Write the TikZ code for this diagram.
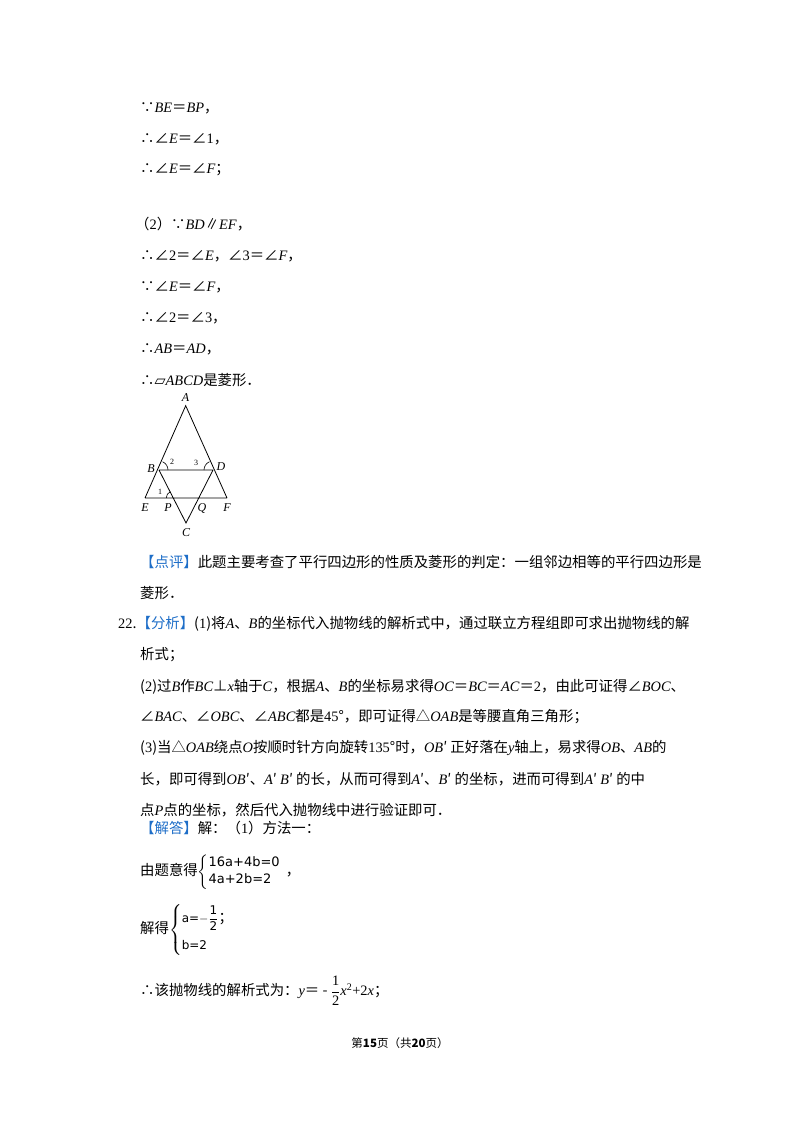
\documentclass[tikz,border=0pt]{standalone}
\usepackage{amsmath}
\usepackage{fontspec}
\usetikzlibrary{calc}
\setmainfont{Noto Sans CJK SC}
\newfontfamily\lat{Liberation Serif}
\newfontfamily\djv{DejaVu Sans}
\newcommand{\mi}[1]{{\lat\itshape #1}}
\newcommand{\rmn}[1]{{\lat #1}}
\definecolor{hl}{RGB}{30,110,200}
\begin{document}
\begin{tikzpicture}[x=1pt,y=-1pt,
  t/.style={anchor=west,inner sep=0pt,font=\fontsize{14.4}{17}\selectfont},
  lab/.style={inner sep=1pt,font=\lat\itshape\fontsize{12}{14}\selectfont},
  sm/.style={inner sep=0pt,font=\lat\fontsize{8}{9}\selectfont},
  seg/.style={line width=0.8pt}]
\useasboundingbox[fill=white] (0,0) rectangle (800,1132);
\node[t] (l1) at (140,108) {∵\mi{BE}＝\mi{BP}，};
\node[t] (l2) at (140,139) {∴∠\mi{E}＝∠\rmn{1}，};
\node[t] (l3) at (140,170) {∴∠\mi{E}＝∠\mi{F}；};
\node[t] (l4) at (135,224) {（\rmn{2}）∵\mi{BD}∥\mi{EF}，};
\node[t] (l5) at (140,256) {∴∠\rmn{2}＝∠\mi{E}，∠\rmn{3}＝∠\mi{F}，};
\node[t] (l6) at (140,287) {∵∠\mi{E}＝∠\mi{F}，};
\node[t] (l7) at (140,318) {∴∠\rmn{2}＝∠\rmn{3}，};
\node[t] (l8) at (140,349) {∴\mi{AB}＝\mi{AD}，};
\node[t] (l9) at (140,380) {∴{\djv ▱}\mi{ABCD}是菱形．};
% figure
\coordinate (A) at (185.7,405.7);
\coordinate (B) at (159,470);
\coordinate (D) at (213,470);
\coordinate (E) at (145,498);
\coordinate (F) at (227,498);
\coordinate (C) at (186,523);
\coordinate (P) at ($(B)!0.528!(C)$);
\coordinate (Q) at ($(D)!0.528!(C)$);
\draw[seg] (E)--(A)--(F) (B)--(D) (E)--(F) (B)--(C)--(D);
\draw[line width=0.6pt] ($(B)!9pt!(D)$) arc[start angle=0,end angle=67,radius=9pt];
\draw[line width=0.6pt] ($(D)!9pt!(B)$) arc[start angle=180,end angle=113,radius=9pt];
\draw[line width=0.6pt] ($(P)!7pt!(E)$) arc[start angle=180,end angle=115,radius=7pt];
\node[lab] (nA) at (185.5,398) {A};
\node[lab] (nB) at (151,469) {B};
\node[lab] (nD) at (221,467) {D};
\node[lab] (nE) at (145,508) {E};
\node[lab] (nP) at (168,508) {P};
\node[lab] (nQ) at (202,508) {Q};
\node[lab] (nF) at (227,508) {F};
\node[lab] (nC) at (186,533) {C};
\node[sm] (n2) at (172,462) {2};
\node[sm] (n3) at (196,463) {3};
\node[sm] (n1) at (160,492) {1};
% comments
\node[t] (d1) at (140,562) {\textcolor{hl}{【点评】}此题主要考查了平行四边形的性质及菱形的判定：一组邻边相等的平行四边形是};
\node[t] (d2) at (140,593) {菱形．};
\node[t] (a1) at (118,624) {\rmn{22}.\textcolor{hl}{【分析】}(\rmn{1})将\mi{A}、\mi{B}的坐标代入抛物线的解析式中，通过联立方程组即可求出抛物线的解};
\node[t] (a2) at (140,655) {析式；};
\node[t] (a3) at (140,687) {(\rmn{2})过\mi{B}作\mi{BC}⊥\mi{x}轴于\mi{C}，根据\mi{A}、\mi{B}的坐标易求得\mi{OC}＝\mi{BC}＝\mi{AC}＝\rmn{2}，由此可证得∠\mi{BOC}、};
\node[t] (a4) at (140,717) {∠\mi{BAC}、∠\mi{OBC}、∠\mi{ABC}都是\rmn{45}°，即可证得△\mi{OAB}是等腰直角三角形；};
\node[t] (a5) at (140,748) {(\rmn{3})当△\mi{OAB}绕点\mi{O}按顺时针方向旋转\rmn{135}°时，\mi{OB}′ 正好落在\mi{y}轴上，易求得\mi{OB}、\mi{AB}的};
\node[t] (a6) at (140,779) {长，即可得到\mi{OB}′、\mi{A}′ \mi{B}′ 的长，从而可得到\mi{A}′、\mi{B}′ 的坐标，进而可得到\mi{A}′ \mi{B}′ 的中};
\node[t] (a7) at (140,810) {点\mi{P}点的坐标，然后代入抛物线中进行验证即可．};
\node[t] (j1) at (140,828) {\textcolor{hl}{【解答】}解：（\rmn{1}）方法一：};
\node[t] (j2) at (140,872) {由题意得$\left\{\begin{array}{@{}l}\mbox{\fontsize{13}{15}\selectfont\djv 16a+4b=0}\\ \mbox{\fontsize{13}{15}\selectfont\djv 4a+2b=2}\end{array}\right.$，};
\node[t] (j3) at (140,930) {解得$\left\{\begin{array}{@{}l}\mbox{\fontsize{12}{14}\selectfont\djv a=$-\dfrac{\mbox{\djv 1}}{\mbox{\djv 2}}$}\mbox{；}\\[10pt] \mbox{\fontsize{12}{14}\selectfont\djv b=2}\end{array}\right.$};
\node[t] (j4) at (140,991) {∴该抛物线的解析式为：\mi{y}＝ - $\dfrac{\mbox{\lat 1}}{\mbox{\lat 2}}$\mi{x}\textsuperscript{\rmn{2}}\rmn{+2}\mi{x}；};
\node[inner sep=0pt,font=\fontsize{11.5}{13}\selectfont] (ft) at (400,1043) {第\textbf{15}页（共\textbf{20}页）};
\end{tikzpicture}
\end{document}
